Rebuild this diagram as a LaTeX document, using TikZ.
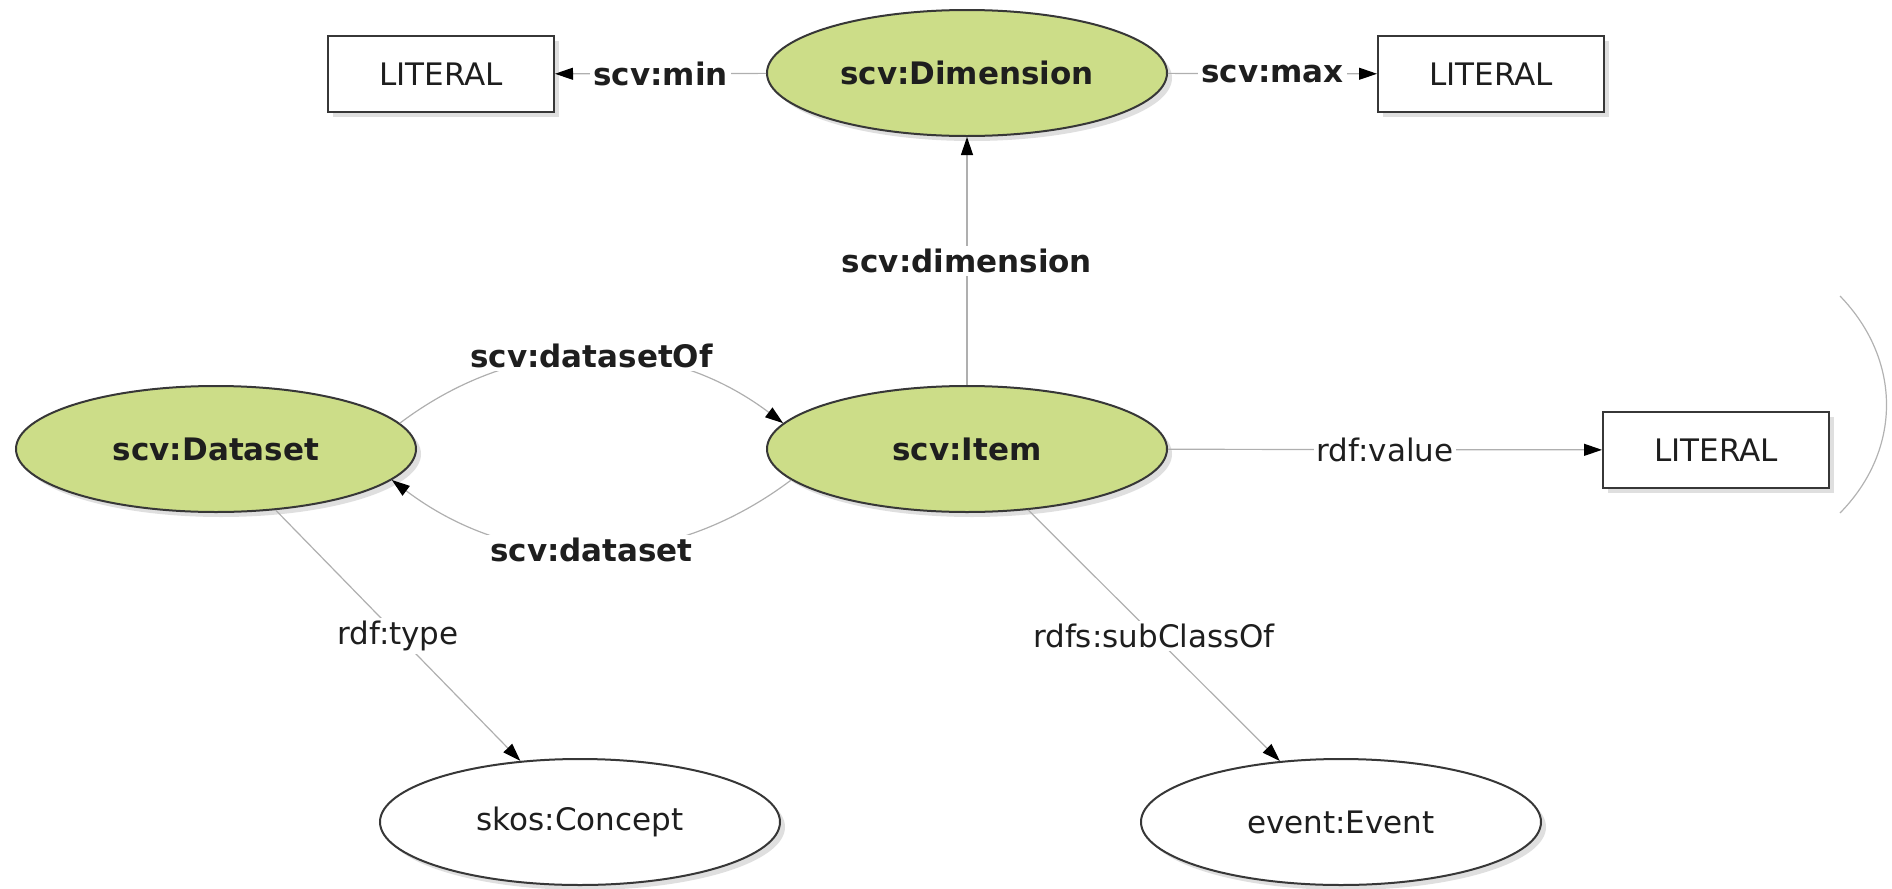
\documentclass[tikz,border=0pt]{standalone}
\usepackage{fontspec}
\setmainfont{DejaVu Sans}
\usetikzlibrary{arrows.meta,shadows,shapes.geometric}
\definecolor{nodegreen}{RGB}{204,221,136}
\definecolor{edgegray}{RGB}{175,175,175}
\definecolor{bordergray}{RGB}{55,55,55}
\definecolor{txt}{RGB}{30,30,30}
\begin{document}
\begin{tikzpicture}[x=0.5pt,y=-0.5pt,
  font=\fontsize{15.5}{18}\selectfont, text=txt,
  shad/.style={drop shadow={shadow xshift=2.5pt, shadow yshift=-2.5pt, fill=black!25, opacity=0.5}},
  cls/.style={ellipse, draw=bordergray, line width=1pt, minimum width=200pt, minimum height=63pt, inner sep=0pt, shad},
  gcls/.style={cls, fill=nodegreen, font=\fontsize{15.5}{18}\selectfont\bfseries},
  wcls/.style={cls, fill=white},
  lit/.style={rectangle, draw=bordergray, line width=1pt, fill=white, minimum width=113pt, minimum height=38pt, shad},
  conn/.style={draw=edgegray, line width=0.6pt, -{Triangle[length=9pt,width=6pt,color=black]}},
  lbl/.style={fill=white, inner sep=1.5pt},
  blbl/.style={lbl, font=\fontsize{15.5}{18}\selectfont\bfseries}
]
\useasboundingbox (0,0) rectangle (1892,889);
\node[gcls] (dim) at (967,73) {scv:Dimension};
\node[lit] (minlit) at (441,74) {LITERAL};
\node[lit] (maxlit) at (1491,74) {LITERAL};
\node[gcls] (ds) at (216,449) {scv:Dataset};
\node[gcls] (it) at (967,449) {scv:Item};
\node[lit] (vallit) at (1716,450) {LITERAL};
\node[wcls] (sk) at (580,822) {skos:Concept};
\node[wcls] (ev) at (1341,822) {event:Event};

\draw[conn] (dim) -- node[blbl]{scv:min} (minlit);
\draw[conn] (dim) -- node[blbl]{scv:max} (maxlit);
\draw[conn] (it) -- node[blbl]{scv:dimension} (dim);
\draw[conn] (it) -- node[lbl]{rdf:value} (vallit);
\draw[conn] (ds) -- node[lbl]{rdf:type} (sk);
\draw[conn] (it) -- node[lbl]{rdfs:subClassOf} (ev);
\draw[conn] (ds.8) to[bend left=37] node[blbl]{scv:datasetOf} (it.172);
\draw[conn] (it.190) to[bend left=37] node[blbl]{scv:dataset} (ds.-10);

\draw[draw=black!30, line width=0.6pt] (1840,296) .. controls (1902,360) and (1902,450) .. (1840,513);
\end{tikzpicture}
\end{document}
